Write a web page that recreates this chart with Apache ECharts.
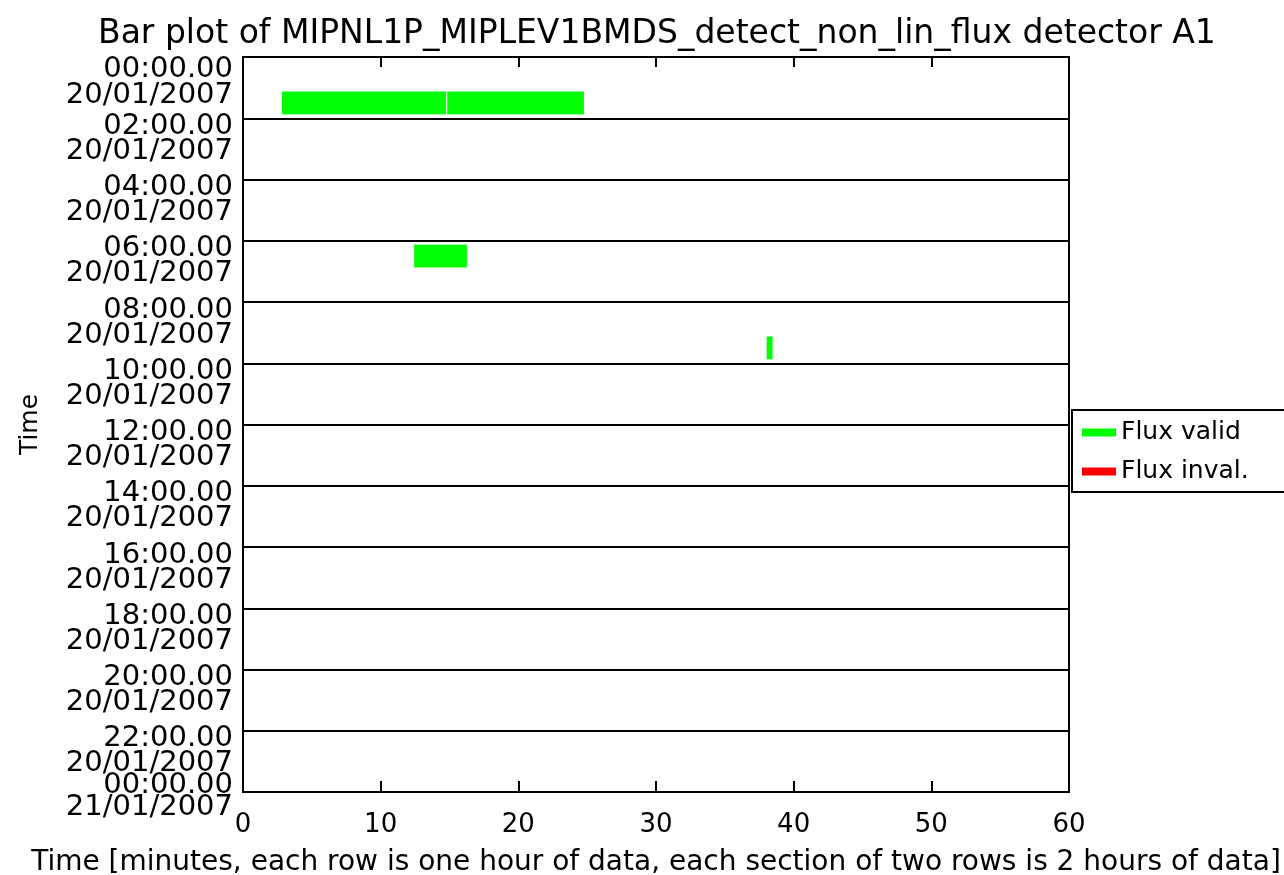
<!DOCTYPE html>
<html><head><meta charset="utf-8">
<script src="https://cdn.jsdelivr.net/npm/echarts@6/dist/echarts.min.js"></script>
<style>html,body{margin:0;padding:0;background:#fff}#c{width:1284px;height:875px}</style>
</head><body><div id="c"></div>
<script>
const titleText = 'Bar plot of MIPNL1P_MIPLEV1BMDS_detect_non_lin_flux detector A1';
const xTicks = [0, 10, 20, 30, 40, 50, 60];
const yTickHours = [0, 2, 4, 6, 8, 10, 12, 14, 16, 18, 20, 22, 24];
const timeLabels = ['00:00.00','02:00.00','04:00.00','06:00.00','08:00.00','10:00.00','12:00.00','14:00.00','16:00.00','18:00.00','20:00.00','22:00.00','00:00.00'];
const dateLabels = ['20/01/2007','20/01/2007','20/01/2007','20/01/2007','20/01/2007','20/01/2007','20/01/2007','20/01/2007','20/01/2007','20/01/2007','20/01/2007','20/01/2007','21/01/2007'];
// valid flux bars: row (hour index), start minute, end minute
const validRows = [1, 1, 6, 9];
const validStart = [2.8, 14.8, 12.4, 38.0];
const validEnd = [14.8, 24.8, 16.3, 38.5];
// invalid flux bars (none)
const invalidRows = [];
const invalidStart = [];
const invalidEnd = [];

const FONT = 'DejaVu Sans';
const validData = validRows.map((r, i) => [validStart[i], validEnd[i], r]);
const invalidData = invalidRows.map((r, i) => [invalidStart[i], invalidEnd[i], r]);

function renderBar(params, api) {
  const s = api.value(0), e = api.value(1), r = api.value(2);
  const p0 = api.coord([s, r + 0.5]);
  const p1 = api.coord([e, r + 0.5]);
  const h = api.size([0, 1])[1] * 0.78;
  return {
    type: 'rect',
    shape: {x: p0[0], y: p0[1] - h / 2, width: p1[0] - p0[0], height: h},
    style: {fill: api.visual('color'), stroke: '#fff', lineWidth: 1}
  };
}
const timeOf = v => { const i = yTickHours.indexOf(Math.round(v)); return i < 0 ? '' : timeLabels[i]; };
const dateOf = v => { const i = yTickHours.indexOf(Math.round(v)); return i < 0 ? '' : dateLabels[i]; };

function labelAxis(values, fmt, vAlign, lh) {
  return {
    type: 'value', min: 0, max: 24, inverse: true, position: 'left', offset: 0,
    axisLine: {show: false}, axisTick: {show: false}, splitLine: {show: false},
    axisLabel: {
      customValues: values, formatter: fmt, verticalAlign: vAlign, lineHeight: lh,
      fontFamily: FONT, fontSize: 29, color: '#000', margin: 10, align: 'right',
      showMinLabel: true, showMaxLabel: true, hideOverlap: false
    }
  };
}
const midHours = yTickHours.slice(1, -1);
const midHoursA = midHours.filter((h, i) => i % 2 === 0);
const midHoursB = midHours.filter((h, i) => i % 2 === 1);
const firstHour = [yTickHours[0]];
const lastHour = [yTickHours[yTickHours.length - 1]];

const chart = echarts.init(document.getElementById('c'));
chart.setOption({
  animation: false,
  backgroundColor: '#fff',
  title: {
    text: titleText, left: 93, top: 13,
    textStyle: {fontFamily: FONT, fontSize: 33, fontWeight: 'normal', color: '#000'}
  },
  legend: {
    left: 1072, top: 410, orient: 'vertical',
    data: ['Flux valid', 'Flux inval.'],
    icon: 'rect', itemWidth: 34, itemHeight: 8, itemGap: 14,
    padding: [10, 60, 8, 10],
    borderColor: '#000', borderWidth: 2,
    textStyle: {fontFamily: FONT, fontSize: 25, color: '#000'}
  },
  grid: {left: 243, right: 215, top: 57, bottom: 83, containLabel: false, outerBoundsMode: 'none',
    show: true, borderColor: '#000', borderWidth: 2, backgroundColor: '#fff'},
  xAxis: [{
    type: 'value', min: 0, max: 60, interval: 10, position: 'bottom',
    name: 'Time [minutes, each row is one hour of data, each section of two rows is 2 hours of data]',
    nameLocation: 'middle', nameGap: 57,
    nameTextStyle: {fontFamily: FONT, fontSize: 28, color: '#000'},
    axisLine: {show: true, onZero: false, lineStyle: {color: '#000', width: 2}},
    axisTick: {show: true, inside: true, length: 11, lineStyle: {color: '#000', width: 2}},
    axisLabel: {margin: 20, fontFamily: FONT, fontSize: 26, color: '#000',
      formatter: v => xTicks.includes(v) ? String(v) : ''},
    splitLine: {show: false}
  }, {
    type: 'value', min: 0, max: 60, interval: 10, position: 'top',
    axisLine: {show: true, onZero: false, lineStyle: {color: '#000', width: 2}},
    axisTick: {show: true, inside: true, length: 10, lineStyle: {color: '#000', width: 2}},
    axisLabel: {show: false}, splitLine: {show: false}
  }],
  yAxis: [{
    type: 'value', min: 0, max: 24, interval: 2, inverse: true,
    name: 'Time', nameLocation: 'middle', nameGap: 200, nameRotate: 90,
    nameTextStyle: {fontFamily: FONT, fontSize: 25, color: '#000'},
    axisLine: {show: true, onZero: false, lineStyle: {color: '#000', width: 2}},
    axisTick: {show: false},
    splitLine: {show: true, lineStyle: {color: '#000', width: 2}},
    axisLabel: {show: false}
  },
    labelAxis(midHours, timeOf, 'top', 16),
    labelAxis(midHoursA, dateOf, 'top', 66),
    labelAxis(midHoursB, dateOf, 'top', 66),
    labelAxis(firstHour, timeOf, 'top', 24),
    labelAxis(firstHour, dateOf, 'top', 76),
    labelAxis(lastHour, timeOf, 'bottom', 14),
    labelAxis(lastHour, dateOf, 'top', 30)
  ],
  series: [{
    name: 'Flux valid', type: 'custom', color: '#00ff00',
    renderItem: renderBar, encode: {x: [0, 1], y: 2}, data: validData
  }, {
    name: 'Flux inval.', type: 'custom', color: '#ff0000',
    renderItem: renderBar, encode: {x: [0, 1], y: 2}, data: invalidData
  }]
});
</script></body></html>
